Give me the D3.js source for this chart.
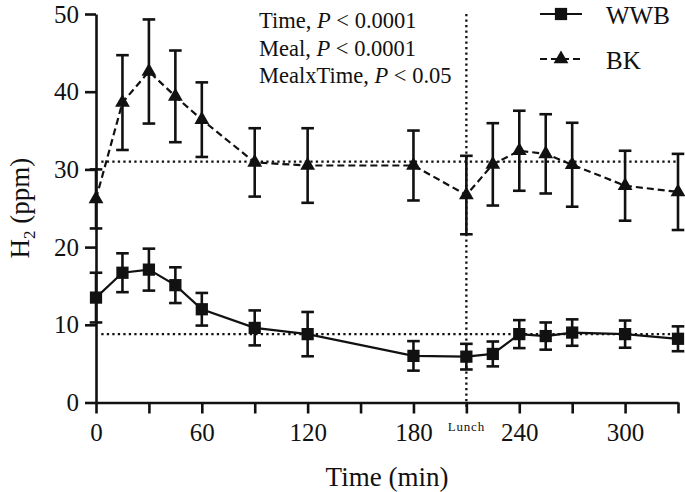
<!DOCTYPE html>
<html>
<head>
<meta charset="utf-8">
<script src="https://cdn.jsdelivr.net/npm/d3@7"></script>
<style>
  body { margin: 0; background: #fff; }
  svg text { font-family: "Liberation Serif", "DejaVu Serif", serif; }
</style>
</head>
<body>
<svg id="chart" width="685" height="492"></svg>
<script>
// ---------- data ----------
let times  = [0, 15, 30, 45, 60, 90, 120, 180, 210, 225, 240, 255, 270, 300, 330];
let wwb    = [13.5, 16.7, 17.1, 15.1, 12.0, 9.6, 8.8, 6.0, 5.9, 6.25, 8.8, 8.55, 9.0, 8.8, 8.2];
let wwbErr = [3.2, 2.5, 2.7, 2.3, 2.1, 2.25, 2.85, 1.9, 1.65, 1.6, 1.8, 1.75, 1.7, 1.75, 1.6];
let bk     = [26.2, 38.6, 42.6, 39.4, 36.4, 30.9, 30.5, 30.5, 26.7, 30.65, 32.4, 32.0, 30.6, 27.9, 27.1];
let bkErr  = [3.8, 6.1, 6.7, 5.9, 4.8, 4.4, 4.8, 4.5, 5.05, 5.3, 5.15, 5.1, 5.4, 4.5, 4.9];

let xTicks = [0, 30, 60, 90, 120, 150, 180, 210, 240, 270, 300, 330];
let xLabels = [0, 60, 120, 180, 240, 300];
let yTicks = [0, 10, 20, 30, 40, 50];

let baselines = [31.0, 8.8];   // dotted reference lines (BK, WWB)
let lunchTime = 210;

let notes = [
  ["Time, ", "P", " < 0.0001"],
  ["Meal, ", "P", " < 0.0001"],
  ["MealxTime, ", "P", " < 0.05"]
];

let FONT = "Liberation Serif, serif";

// ---------- scales ----------
let svg = d3.select("#chart");
let mLeft = 96, mRight = 678, mTop = 14, mBottom = 402.5;

let x = d3.scaleLinear().domain([0, 330]).range([mLeft, mRight]);
let y = d3.scaleLinear().domain([0, 50]).range([mBottom, mTop]);

// ---------- reference lines ----------
let g = svg.append("g");

baselines.forEach(v => {
  g.append("line")
    .attr("x1", x(3)).attr("x2", x(330))
    .attr("y1", y(v)).attr("y2", y(v))
    .attr("stroke", "#111").attr("stroke-width", 2.3)
    .attr("stroke-dasharray", "2.3,3.2");
});

g.append("line")
  .attr("x1", x(lunchTime)).attr("x2", x(lunchTime))
  .attr("y1", mTop).attr("y2", mBottom + 6)
  .attr("stroke", "#111").attr("stroke-width", 2.3)
  .attr("stroke-dasharray", "2.3,3.2");

// ---------- series ----------
let series = [
  { name: "WWB", vals: wwb, err: wwbErr, dash: null, shape: d3.symbolSquare, size: 150 },
  { name: "BK",  vals: bk,  err: bkErr,  dash: "7,4", shape: d3.symbolTriangle, size: 95 }
];

let line = d3.line().x(d => x(d.t)).y(d => y(d.v));

series.forEach(s => {
  let pts = times.map((t, i) => ({ t, v: s.vals[i], e: s.err[i] }));

  g.append("path")
    .datum(pts)
    .attr("d", line)
    .attr("fill", "none")
    .attr("stroke", "#111")
    .attr("stroke-width", 2.2)
    .attr("stroke-dasharray", s.dash);

  // error bars
  let eb = g.append("g").attr("stroke", "#111").attr("stroke-width", 2.6);
  pts.forEach(d => {
    eb.append("line")
      .attr("x1", x(d.t)).attr("x2", x(d.t))
      .attr("y1", y(d.v - d.e)).attr("y2", y(d.v + d.e));
    [d.v - d.e, d.v + d.e].forEach(c => {
      eb.append("line")
        .attr("x1", x(d.t) - 6.3).attr("x2", x(d.t) + 6.3)
        .attr("y1", y(c)).attr("y2", y(c));
    });
  });

  // markers
  g.selectAll(null)
    .data(pts)
    .join("path")
    .attr("d", d3.symbol().type(s.shape).size(s.size))
    .attr("transform", d => `translate(${x(d.t)},${y(d.v)})`)
    .attr("fill", "#111");
});

// ---------- axes ----------
let xAxis = svg.append("g")
  .attr("transform", `translate(0,${mBottom})`)
  .call(d3.axisBottom(x).tickValues(xTicks).tickSize(11).tickSizeOuter(0)
    .tickFormat(d => xLabels.includes(d) ? d : ""));

let yAxis = svg.append("g")
  .attr("transform", `translate(${mLeft},0)`)
  .call(d3.axisLeft(y).tickValues(yTicks).tickSize(11).tickSizeOuter(0));

[xAxis, yAxis].forEach(a => {
  a.attr("font-family", FONT);
  a.select(".domain").attr("stroke", "#111").attr("stroke-width", 2.6);
  a.selectAll(".tick line").attr("stroke", "#111").attr("stroke-width", 2.6);
  a.selectAll(".tick text")
    .attr("fill", "#111")
    .style("font-family", FONT)
    .style("font-size", "25px");
});
xAxis.selectAll(".tick text").attr("y", 21);
yAxis.selectAll(".tick text").attr("x", -17);

// Lunch label under the 210 tick
svg.append("text")
  .attr("x", x(lunchTime)).attr("y", 431)
  .attr("text-anchor", "middle")
  .style("font-family", FONT)
  .attr("font-size", 13).attr("letter-spacing", 0.8).attr("fill", "#111")
  .text("Lunch");

// axis titles
svg.append("text")
  .attr("x", x(165)).attr("y", 486)
  .attr("text-anchor", "middle")
  .style("font-family", FONT)
  .attr("font-size", 27).attr("fill", "#111")
  .text("Time (min)");

let yt = svg.append("text")
  .attr("transform", `translate(29,${y(25)}) rotate(-90)`)
  .attr("text-anchor", "middle")
  .style("font-family", FONT)
  .attr("font-size", 27).attr("fill", "#111");
yt.append("tspan").text("H");
yt.append("tspan").attr("font-size", 17).attr("dy", 6).text("2");
yt.append("tspan").attr("dy", -6).text(" (ppm)");

// ---------- stats note ----------
notes.forEach((n, i) => {
  let t = svg.append("text")
    .attr("x", 259).attr("y", 28.3 + i * 27.2)
    .style("font-family", FONT)
    .attr("font-size", 22.5).attr("fill", "#111");
  t.append("tspan").text(n[0]);
  t.append("tspan").attr("font-style", "italic").text(n[1]);
  t.append("tspan").text(n[2]);
});

// ---------- legend ----------
series.forEach((s, i) => {
  let ly = 14 + i * 45;
  svg.append("line")
    .attr("x1", 540).attr("x2", 582)
    .attr("y1", ly).attr("y2", ly)
    .attr("stroke", "#111").attr("stroke-width", 2.2)
    .attr("stroke-dasharray", s.dash);
  svg.append("path")
    .attr("d", d3.symbol().type(s.shape).size(s.size)())
    .attr("transform", `translate(561,${ly})`)
    .attr("fill", "#111");
  svg.append("text")
    .attr("x", 606).attr("y", ly + 10)
    .style("font-family", FONT)
    .attr("font-size", 25).attr("fill", "#111")
    .text(s.name);
});
</script>
</body>
</html>
